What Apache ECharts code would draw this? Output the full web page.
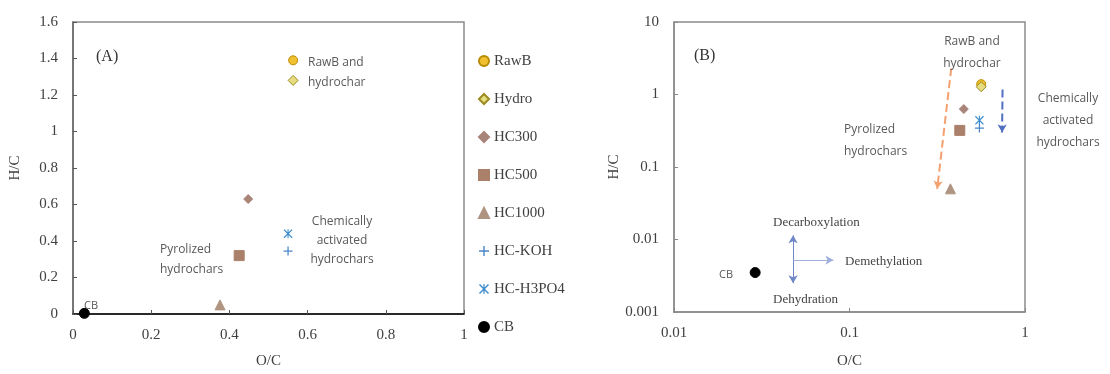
<!DOCTYPE html>
<html>
<head>
<meta charset="utf-8">
<script src="https://cdn.jsdelivr.net/npm/echarts@6/dist/echarts.min.js"></script>
<style>
html,body{margin:0;padding:0;background:#fff;}
#main{width:1110px;height:374px;}
</style>
</head>
<body>
<div id="main"></div>
<script>
// samples
var names=['RawB','Hydro','HC300','HC500','HC1000','HC-KOH','HC-H3PO4','CB'];
var oc=[0.563,0.563,0.448,0.425,0.376,0.55,0.55,0.029];
var hc=[1.39,1.28,0.63,0.32,0.05,0.345,0.44,0.0035];

// tick labels
var leftX=['0','0.2','0.4','0.6','0.8','1'];
var leftY=['0','0.2','0.4','0.6','0.8','1','1.2','1.4','1.6'];
var rightX=['0.01','0.1','1'];
var rightY=['0.001','0.01','0.1','1','10'];

// arrows in panel B (data units)
var pyroArrow=[[0.38,2.3],[0.316,0.05]];
var chemArrow=[[0.745,1.17],[0.74,0.3]];
var decarbArrow=[[0.0477,0.0052],[0.0477,0.0114]];
var dehydArrow=[[0.0477,0.0052],[0.0477,0.0025]];
var demethArrow=[[0.0477,0.0052],[0.081,0.0052]];

var plusPath='path://M4.3,0L5.7,0L5.7,4.3L10,4.3L10,5.7L5.7,5.7L5.7,10L4.3,10L4.3,5.7L0,5.7L0,4.3L4.3,4.3Z';
var starPath='path://M1,0L5,4L9,0L10,1L6,5L10,9L9,10L5,6L1,10L0,9L4,5L0,1Z M4.4,0L5.6,0L5.6,10L4.4,10Z';

var looks=[
  {symbol:'circle',size:9,color:'#f0c030',border:'#b88a00'},
  {symbol:'diamond',size:10,color:'#e6dc80',border:'#9a8a20'},
  {symbol:'diamond',size:9,color:'#a98478',border:'#a98478'},
  {symbol:'rect',size:10,color:'#aa806a',border:'#aa806a'},
  {symbol:'triangle',size:10,color:'#b09482',border:'#b09482'},
  {symbol:plusPath,size:9,color:'#4a86c8',border:'#4a86c8'},
  {symbol:starPath,size:9,color:'#3f8fcf',border:'#3f8fcf'},
  {symbol:'circle',size:10,color:'#000',border:'#000'}
];

var serif='Liberation Serif';
var sans='Open Sans';
var tickFont={fontFamily:serif,fontSize:15,color:'#404040'};

var series=[];
names.forEach(function(n,i){
  [0,1].forEach(function(g){
    series.push({
      name:n,type:'scatter',xAxisIndex:g,yAxisIndex:g,
      symbol:looks[i].symbol,symbolSize:looks[i].size,
      itemStyle:{color:looks[i].color,borderColor:looks[i].border,borderWidth:looks[i].symbol.indexOf('path')==0?0:1,opacity:1},
      data:[[oc[i],hc[i]]],z:5
    });
  });
});

function arrowLine(pts,color,type,width){
  return {
    type:'scatter',xAxisIndex:1,yAxisIndex:1,data:[],silent:true,
    markLine:{
      silent:true,symbol:['none','arrow'],symbolSize:[7,8],animation:false,
      label:{show:false},
      lineStyle:{color:color,type:type,width:width},
      data:[[{coord:pts[0]},{coord:pts[1]}]]
    }
  };
}
series.push(arrowLine(pyroArrow,'#f4a070','dashed',2));
series.push(arrowLine(chemArrow,'#5070c0','dashed',2));
series.push(arrowLine(decarbArrow,'#6f86c8','solid',1));
series.push(arrowLine(dehydArrow,'#6f86c8','solid',1));
series.push(arrowLine(demethArrow,'#9fb0dc','solid',1));

function txt(x,y,t,font,size,align,lh,color){
  return {type:'text',x:x,y:y,z:10,style:{text:t,font:size+'px "'+font+'"',fill:color||'#595959',
    align:align||'left',verticalAlign:'top',lineHeight:lh||size+7}};
}

var myChart=echarts.init(document.getElementById('main'));
myChart.setOption({
  animation:false,
  grid:[
    {left:73,top:22,width:391,height:295,show:true,borderColor:'#8c8c8c',borderWidth:1.5},
    {left:674,top:22,width:351,height:293,show:true,borderColor:'#8c8c8c',borderWidth:1.5}
  ],
  legend:{
    orient:'vertical',left:473,top:48,itemWidth:10,itemHeight:10,itemGap:22,
    textStyle:{fontFamily:serif,fontSize:15,color:'#404040',lineHeight:16},
    data:names
  },
  xAxis:[
    {type:'value',gridIndex:0,min:0,max:1,interval:0.2,
     name:'O/C',nameLocation:'middle',nameGap:40,nameTextStyle:tickFont,
     axisLine:{lineStyle:{color:'#000',width:1.5}},
     axisTick:{inside:true,length:4,lineStyle:{color:'#555'}},
     axisLabel:Object.assign({margin:14,formatter:function(v,i){return leftX[i];}},tickFont),
     splitLine:{show:false}},
    {type:'log',gridIndex:1,min:0.01,max:1,logBase:10,
     name:'O/C',nameLocation:'middle',nameGap:42,nameTextStyle:tickFont,
     axisLine:{lineStyle:{color:'#8c8c8c',width:1.5}},
     axisTick:{inside:true,length:4,lineStyle:{color:'#888'}},
     axisLabel:Object.assign({margin:14,formatter:function(v,i){return rightX[i];}},tickFont),
     splitLine:{show:false}}
  ],
  yAxis:[
    {type:'value',gridIndex:0,min:0,max:1.6,interval:0.2,
     name:'H/C',nameLocation:'middle',nameGap:50,nameRotate:90,nameTextStyle:tickFont,
     axisLine:{show:true,lineStyle:{color:'#666',width:1.5}},
     axisTick:{show:true,inside:true,length:4,lineStyle:{color:'#555'}},
     axisLabel:Object.assign({margin:15,formatter:function(v,i){return leftY[i];}},tickFont),
     splitLine:{show:false}},
    {type:'log',gridIndex:1,min:0.001,max:10,logBase:10,
     name:'H/C',nameLocation:'middle',nameGap:52,nameRotate:90,nameTextStyle:tickFont,
     axisLine:{show:true,lineStyle:{color:'#8c8c8c',width:1.5}},
     axisTick:{show:true,inside:true,length:4,lineStyle:{color:'#888'}},
     axisLabel:Object.assign({margin:15,formatter:function(v,i){return rightY[i];}},tickFont),
     splitLine:{show:false}}
  ],
  graphic:[
    txt(96,45,'(A)',serif,16,'left',null,'#333'),
    txt(308,53,'RawB and\nhydrochar',sans,12,'left',20),
    txt(84,297,'CB',sans,11),
    txt(160,240,'Pyrolized\nhydrochars',sans,12,'left',20),
    txt(342,212,'Chemically\nactivated\nhydrochars',sans,12,'center',19),
    txt(694,44,'(B)',serif,16,'left',null,'#333'),
    txt(972,31,'RawB and\nhydrochar',sans,12,'center',22),
    txt(844,119,'Pyrolized\nhydrochars',sans,12,'left',22),
    txt(1068,88,'Chemically\nactivated\nhydrochars',sans,12,'center',22),
    txt(719,266,'CB',sans,11),
    txt(773,213,'Decarboxylation',serif,13,'left',null,'#444'),
    txt(845,252,'Demethylation',serif,13,'left',null,'#444'),
    txt(773,290,'Dehydration',serif,13,'left',null,'#444')
  ],
  series:series
});
</script>
</body>
</html>
